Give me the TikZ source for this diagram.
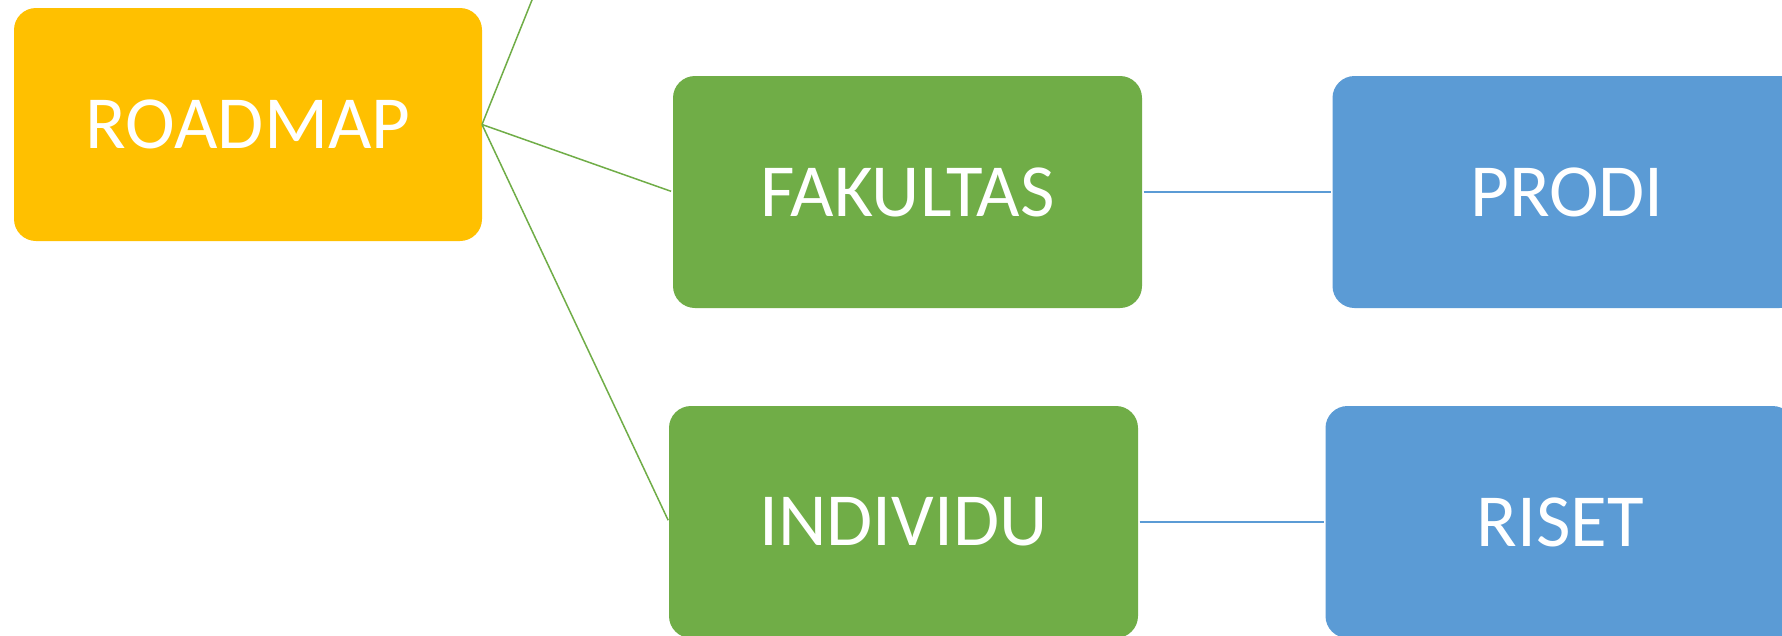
\documentclass[tikz,border=0pt]{standalone}
\usepackage{fontspec}
\setmainfont{Carlito}
\definecolor{cyellow}{HTML}{FFC000}
\definecolor{cgreen}{HTML}{70AD47}
\definecolor{cblue}{HTML}{5B9BD5}
\begin{document}
\begin{tikzpicture}[x=1pt,y=-1pt,
  box/.style={rounded corners=22pt, inner sep=0pt, outer sep=0pt,
    minimum width=469pt, minimum height=232pt,
    text=white, font=\fontsize{75}{75}\selectfont},
  gline/.style={draw=cgreen, line width=1.5pt},
  bline/.style={draw=cblue, line width=1.8pt}]
\useasboundingbox (0,0) rectangle (1782,635);
\clip (0,0) rectangle (1782,635);
\fill[white] (0,0) rectangle (1782,635);
% boxes
\node[box, fill=cyellow, minimum width=468pt, minimum height=233pt] (road) at (248,124.5) {ROADMAP};
\node[box, fill=cgreen] (fak) at (907.5,192) {FAKULTAS};
\node[box, fill=cblue] (prodi) at (1567,192) {PRODI};
\node[box, fill=cgreen] (ind) at (903.5,522) {INDIVIDU};
\node[box, fill=cblue] (riset) at (1560,522) {RISET};
% connectors
\coordinate (up) at (536,-10);
\draw[gline] (road.east) -- (up);
\draw[gline, shorten >=2pt] (road.east) -- (fak.west);
\draw[gline, shorten >=2pt] (road.east) -- (ind.west);
\draw[bline, shorten <=1.5pt, shorten >=1.5pt] (fak.east) -- (prodi.west);
\draw[bline, shorten <=1.5pt, shorten >=1.5pt] (ind.east) -- (riset.west);
\end{tikzpicture}
\end{document}
